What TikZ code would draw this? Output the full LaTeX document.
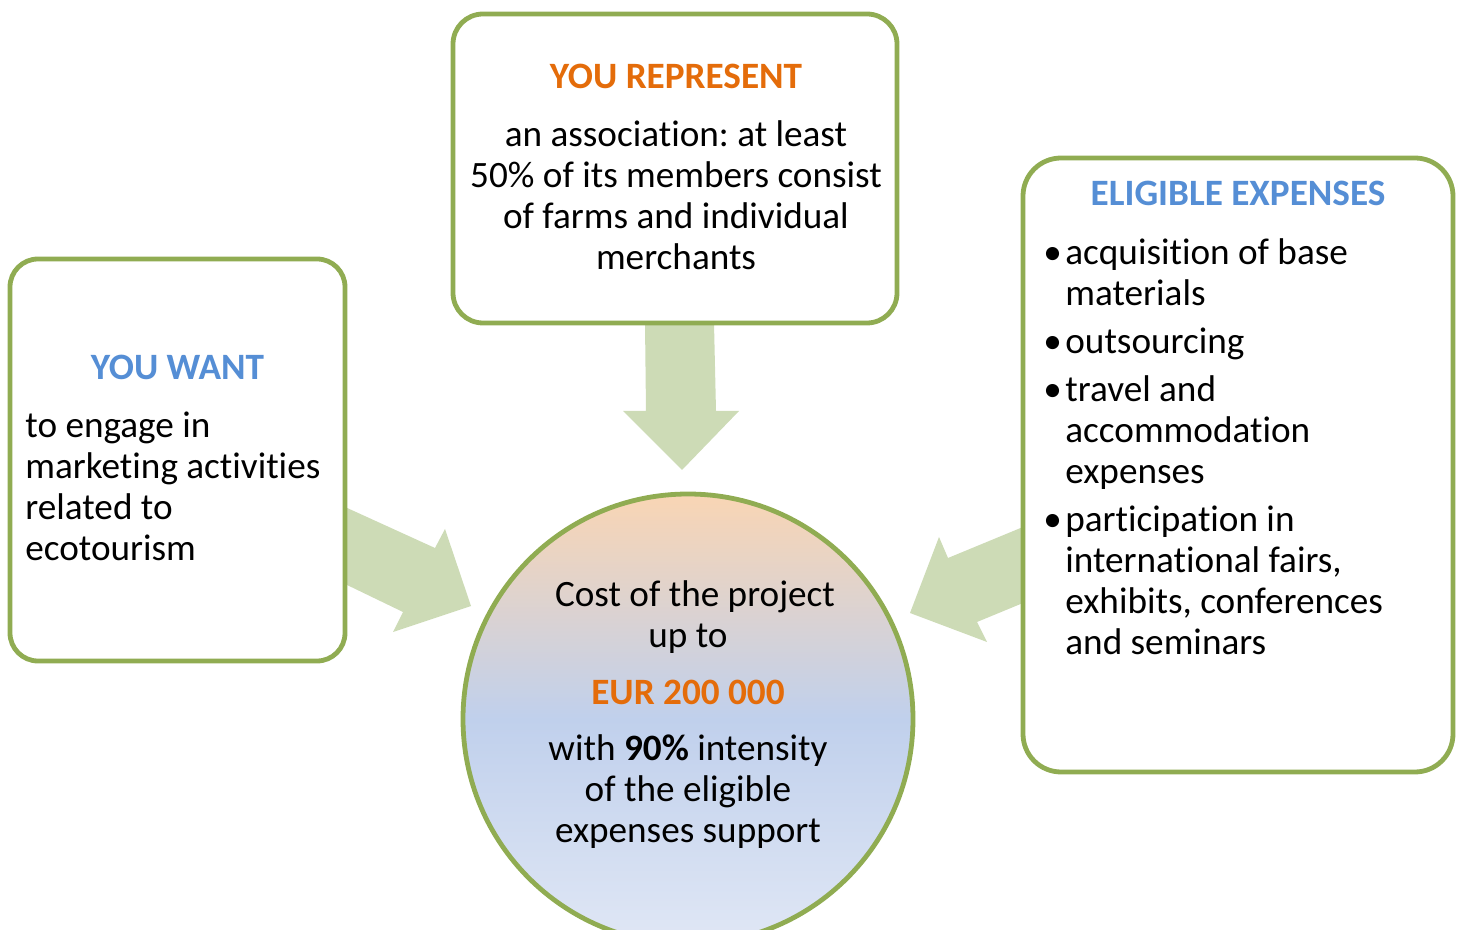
\documentclass[tikz,border=0pt]{standalone}
\usepackage{fontspec}
\setmainfont{Carlito}[Ligatures={NoCommon,NoContextual,NoRequired}, Contextuals=NoAlternate]
\usepackage{tikz}
\usetikzlibrary{positioning}
\definecolor{boxgreen}{RGB}{144,172,82}
\definecolor{arrowgreen}{RGB}{205,219,182}
\definecolor{myorange}{RGB}{228,108,10}
\definecolor{myblue}{RGB}{85,142,213}
\definecolor{toppeach}{RGB}{249,213,180}
\definecolor{midblue}{RGB}{192,208,236}
\definecolor{botblue}{RGB}{224,231,245}
\newcommand{\bul}{\makebox[11pt][l]{\textbullet}}
\frenchspacing

\begin{document}
\begin{tikzpicture}[x=0.5pt, y=-0.5pt,
    every node/.style={inner sep=0pt, font=\fontsize{18.6pt}{20.5pt}\selectfont},
    box/.style={draw=boxgreen, line width=2.4pt, fill=white},
    title/.style={anchor=base, font=\fontsize{18.6pt}{20.5pt}\selectfont\bfseries},
    blockarrow/.style={fill=arrowgreen}]
    \useasboundingbox (0,0) rectangle (1458,930);
    \clip (0,0) rectangle (1458,930);

    \fill[blockarrow] (645,323) -- (646,411) -- (623,411) -- (682,470) -- (739,411) -- (716,411) -- (714,323) -- cycle;
    \fill[blockarrow] (345,507) -- (435,548) -- (445,529) -- (471,606) -- (393,632) -- (403,612) -- (345,584) -- cycle;
    \fill[blockarrow] (1023,527) -- (948,558) -- (939,537) -- (910,613) -- (987,642) -- (977,622) -- (1023,603) -- cycle;

    \node[box, rounded corners=14pt, minimum width=167.5pt, minimum height=201pt] (w1) at (177.5,460) {};
    \node[box, rounded corners=15pt, minimum width=222pt, minimum height=154.5pt] (r1) at (675,168.5) {};
    \node[box, rounded corners=19pt, minimum width=215pt, minimum height=307pt] (e1) at (1238,465) {};
    \node[circle, draw=boxgreen, line width=2.4pt, top color=toppeach, bottom color=botblue, middle color=midblue, minimum size=225pt] (c1) at (688,719) {};

    \node[title, text=myblue] (w2) at (177.5,380) {YOU WANT};
    \node[anchor=west] (w3) at (25,491) {\begin{tabular}{@{}l@{}}to engage in\\marketing activities\\related to\\ecotourism\end{tabular}};

    \node[title, text=myorange] (r2) at (676,89) {YOU REPRESENT};
    \node (r3) at (676,200) {\begin{tabular}{@{}c@{}}an association: at least\\50\% of its members consist\\of farms and individual\\merchants\end{tabular}};

    \node[title, text=myblue] (e2) at (1238,206) {ELIGIBLE EXPENSES};
    \node[anchor=west] (e3) at (1043,451.5) {\begin{tabular}{@{}l@{}l@{}}
        \bul & acquisition of base\\
             & materials\\[3.5pt]
        \bul & outsourcing\\[3.5pt]
        \bul & travel and\\
             & accommodation\\
             & expenses\\[3.5pt]
        \bul & participation in\\
             & international fairs,\\
             & exhibits, conferences\\
             & and seminars
    \end{tabular}};

    \node (c2) at (688,716.5) {\begin{tabular}{@{}c@{}}\hspace{7pt}Cost of the project\\up to\\[8pt]\textbf{\textcolor{myorange}{EUR 200 000}}\\[7.5pt]with \textbf{90\%} intensity\\of the eligible\\expenses support\end{tabular}};

\end{tikzpicture}
\end{document}
